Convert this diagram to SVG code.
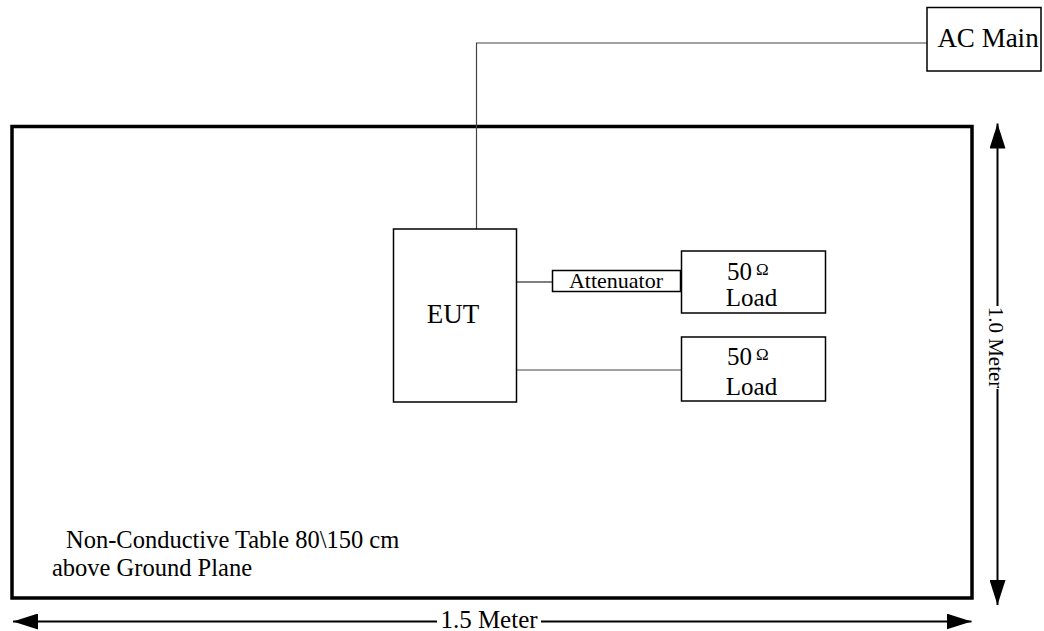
<svg xmlns="http://www.w3.org/2000/svg" width="1044" height="631" viewBox="0 0 1044 631">
<style>
.t{font-family:"Liberation Serif","Times New Roman",serif;fill:#000}
.box{fill:#fff;stroke:#000;stroke-width:1.5}
.wire{fill:none;stroke:#444;stroke-width:1.2}
.dim{fill:none;stroke:#000;stroke-width:2}
</style>
<defs>
<marker id="ah" viewBox="0 0 25 16" refX="25" refY="8" markerWidth="25" markerHeight="16" markerUnits="userSpaceOnUse" orient="auto-start-reverse">
<path d="M0,0 L25,8 L0,16 Z" fill="#000"/>
</marker>
</defs>
<rect width="1044" height="631" fill="#fff"/>
<g id="table">
<rect x="12" y="126.5" width="960" height="471.5" fill="none" stroke="#000" stroke-width="3.5"/>
<text class="t" x="66" y="548" font-size="24.5">Non-Conductive Table 80\150 cm</text>
<text class="t" x="52" y="576" font-size="24.5">above Ground Plane</text>
</g>
<g id="connectors">
<path class="wire" d="M927,43 H476.5 V229"/>
<path d="M516.5,282 H552.5" fill="none" stroke="#000" stroke-width="1.2"/>
<path class="wire" d="M516.5,370 H681" stroke="#666"/>
<path class="dim" d="M437,621.5 H13" marker-end="url(#ah)"/>
<path class="dim" d="M541,621.5 H971.5" marker-end="url(#ah)"/>
<path class="dim" d="M997.5,306 V123.5" marker-end="url(#ah)"/>
<path class="dim" d="M997.5,389 V605" marker-end="url(#ah)"/>
</g>
<g id="ac-main">
<rect class="box" x="927" y="7.5" width="114" height="63.5"/>
<text class="t" x="988" y="47" font-size="27" text-anchor="middle">AC Main</text>
</g>
<g id="eut">
<rect class="box" x="393.5" y="229" width="123" height="173"/>
<text class="t" x="453" y="323" font-size="27" text-anchor="middle">EUT</text>
</g>
<g id="attenuator">
<rect class="box" x="552.5" y="270.5" width="128" height="21"/>
<text class="t" x="616" y="288" font-size="22" text-anchor="middle">Attenuator</text>
</g>
<g id="load1">
<rect class="box" x="681.5" y="251" width="144" height="62"/>
<text class="t" x="727" y="280" font-size="25">50<tspan font-size="17" dx="4" dy="-5">Ω</tspan></text>
<text class="t" x="751.5" y="306" font-size="25" text-anchor="middle">Load</text>
</g>
<g id="load2">
<rect class="box" x="681.5" y="337" width="144" height="64"/>
<text class="t" x="727" y="365" font-size="25">50<tspan font-size="17" dx="4" dy="-5">Ω</tspan></text>
<text class="t" x="751.5" y="395" font-size="25" text-anchor="middle">Load</text>
</g>
<g id="dimensions">
<text class="t" x="489" y="628" font-size="25" text-anchor="middle">1.5 Meter</text>
<text class="t" font-size="21" text-anchor="middle" transform="translate(989,347.5) rotate(90)">1.0 Meter</text>
</g>
</svg>
